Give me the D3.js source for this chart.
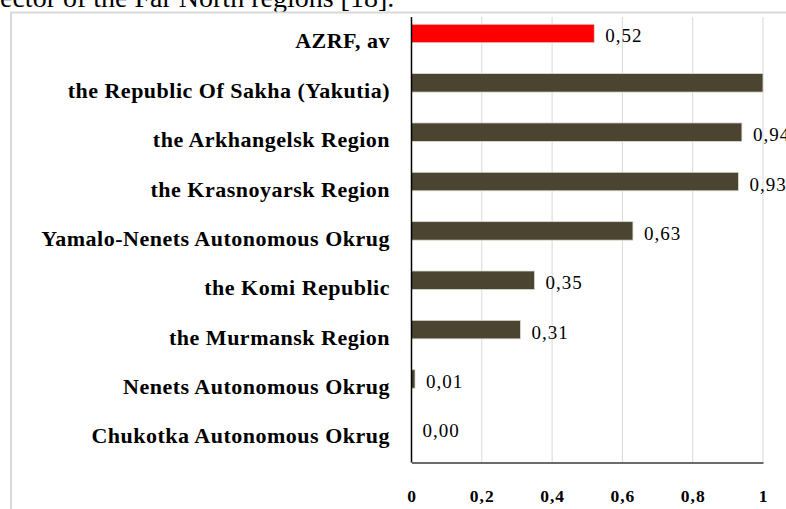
<!DOCTYPE html>
<html>
<head>
<meta charset="utf-8">
<script src="https://cdn.jsdelivr.net/npm/d3@7"></script>
<style>
  body { margin: 0; background: #fff; }
  svg { display: block; }
</style>
</head>
<body>
<svg id="svg" width="786" height="509"></svg>
<script>
// regions, top to bottom as drawn
const regions = ["AZRF, av", "the Republic Of Sakha (Yakutia)", "the Arkhangelsk Region",
  "the Krasnoyarsk Region", "Yamalo-Nenets Autonomous Okrug", "the Komi Republic",
  "the Murmansk Region", "Nenets Autonomous Okrug", "Chukotka Autonomous Okrug"];
const values = [0.52, 1.00, 0.94, 0.93, 0.63, 0.35, 0.31, 0.01, 0.00];
const tickValues = [0, 0.2, 0.4, 0.6, 0.8, 1];

var width = 786;
var height = 509;
var plot = {left: 411.5, right: 763, top: 17, bottom: 462.5};
var serif = "'Liberation Serif', 'Times New Roman', serif";

var data = regions.map((r, i) => ({name: r, value: values[i]}));
var comma = v => d3.format(".2f")(v).replace(".", ",");

var x = d3.scaleLinear()
  .domain([0, 1])
  .range([plot.left, plot.right]);

var y = d3.scaleBand() //centres line up with the bars in the picture
  .domain(regions)
  .range([8.8, 453])
  .paddingInner(0.625)
  .paddingOuter(0.3125);

var svg = d3.select("#svg");

// text from the page above the chart, cut off at the top
svg.append("text")
    .attr("x", 0)
    .attr("y", 7)
    .attr("font-family", serif)
    .attr("font-size", 28)
    .attr("fill", "#000")
    .text("ector of the Far North regions [18].");

// light frame of the chart object
svg.append("rect")
    .attr("x", 11)
    .attr("y", 12.5)
    .attr("width", 900)
    .attr("height", 600)
    .attr("fill", "none")
    .attr("stroke", "#d9d9d9")
    .attr("stroke-width", 2);

// gridlines
svg.append("g")
  .selectAll("line")
  .data(tickValues.slice(1))
  .join("line")
    .attr("x1", d => x(d))
    .attr("x2", d => x(d))
    .attr("y1", plot.top)
    .attr("y2", plot.bottom)
    .attr("stroke", "#d9d9d9")
    .attr("stroke-width", 1);

// bars
svg.append("g")
  .selectAll("rect")
  .data(data)
  .join("rect")
    .attr("x", x(0))
    .attr("y", d => y(d.name))
    .attr("width", d => x(d.value) - x(0))
    .attr("height", y.bandwidth())
    .attr("fill", d => d.name === "AZRF, av" ? "#ff0000" : "#4a4430")
    .attr("stroke", d => d.value > 0 ? "#dcdcd2" : "none")
    .attr("stroke-width", 0.8);

// value labels (the one at 1 falls outside the chart and is not shown)
svg.append("g")
  .selectAll("text")
  .data(data.filter(d => d.value < 1))
  .join("text")
    .attr("x", d => x(d.value) + 11)
    .attr("y", d => y(d.name) + y.bandwidth() / 2 + 9)
    .attr("font-family", serif)
    .attr("font-size", 19)
    .attr("letter-spacing", 1)
    .attr("fill", "#000")
    .text(d => comma(d.value));

// category labels
svg.append("g")
  .selectAll("text")
  .data(data)
  .join("text")
    .attr("x", 390)
    .attr("y", d => y(d.name) + y.bandwidth() / 2 + 15)
    .attr("text-anchor", "end")
    .attr("font-family", serif)
    .attr("font-size", 22)
    .attr("font-weight", "bold")
    .attr("letter-spacing", 0.5)
    .attr("fill", "#000")
    .text(d => d.name);

// axes
svg.append("line")
    .attr("x1", plot.left)
    .attr("x2", plot.left)
    .attr("y1", plot.top)
    .attr("y2", plot.bottom)
    .attr("stroke", "#000")
    .attr("stroke-width", 1.5);

var xAxis = svg.append("g")
    .attr("transform", "translate(0," + plot.bottom + ")")
    .call(d3.axisBottom(x)
      .tickValues(tickValues)
      .tickSize(0)
      .tickPadding(39)
      .tickFormat(d => String(d).replace(".", ",")));

xAxis.select(".domain")
    .attr("stroke", "#3a3a3a")
    .attr("stroke-width", 1.5);

xAxis.selectAll("text")
    .attr("font-family", serif)
    .attr("font-size", 17.5)
    .attr("font-weight", "bold")
    .attr("letter-spacing", 1)
    .attr("fill", "#000")
    .attr("dy", null);
</script>
</body>
</html>
